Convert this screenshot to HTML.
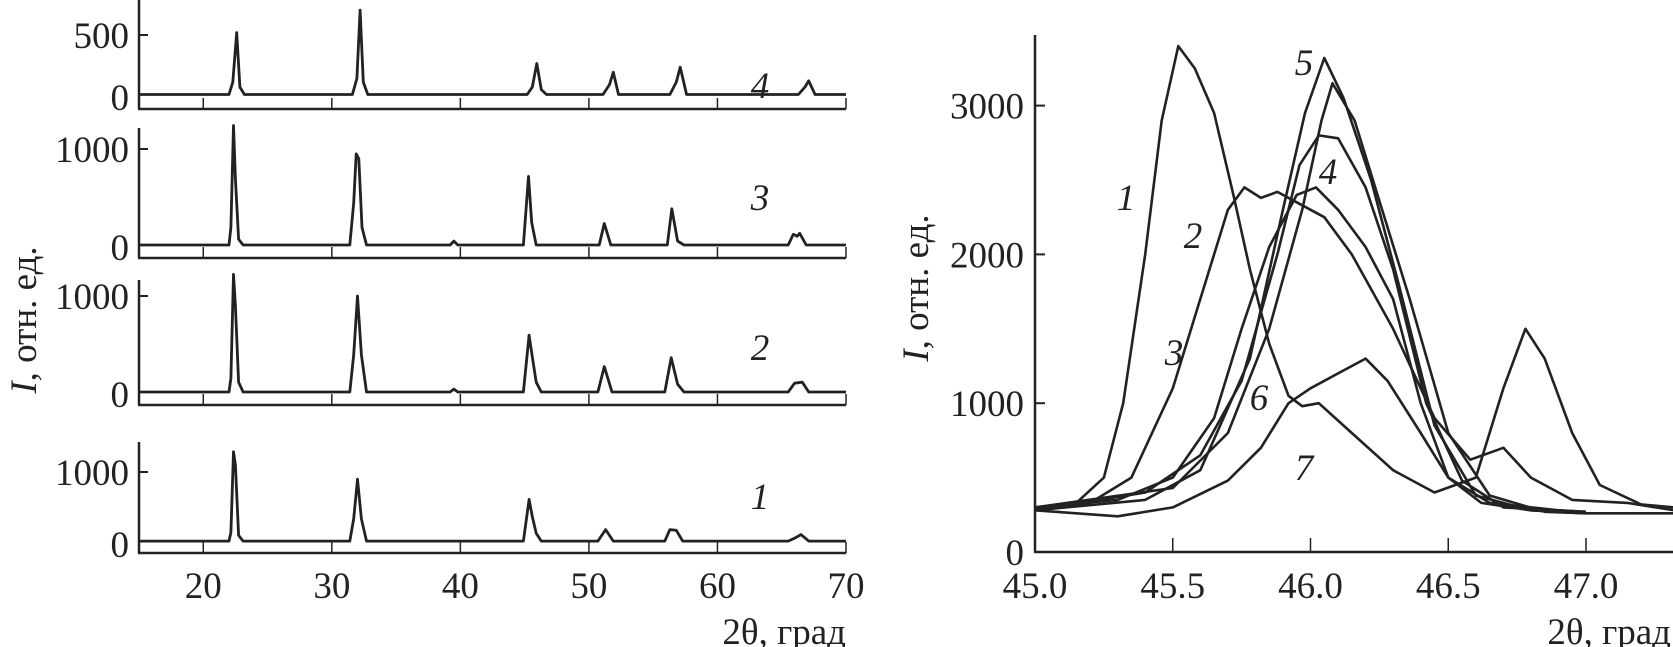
<!DOCTYPE html>
<html><head><meta charset="utf-8"><style>
html,body{margin:0;padding:0;background:#fff;}
svg{display:block;font-family:"Liberation Serif",serif;}
</style></head><body>
<svg id="c" width="1673" height="647" viewBox="0 0 1673 647" xmlns="http://www.w3.org/2000/svg"></svg>
<script>
// ---------- Left chart data (2θ, intensity) ----------
const leftXTicks = [20, 30, 40, 50, 60, 70];
const panel1 = [[15,40],[22,40],[22.15,160],[22.35,1280],[22.5,1100],[22.75,120],[23.1,40],[31.4,40],[31.7,350],[32.0,900],[32.3,350],[32.7,40],[44.9,40],[45.35,620],[45.6,380],[45.9,150],[46.3,40],[50.7,40],[51.3,200],[51.9,40],[55.9,40],[56.3,200],[56.8,190],[57.3,40],[65.5,40],[66.0,80],[66.5,130],[67.1,40],[70,40]];
const panel2 = [[15,20],[22,20],[22.15,160],[22.35,1220],[22.5,900],[22.75,120],[23.1,20],[31.4,20],[31.7,400],[32.0,1000],[32.3,400],[32.7,20],[39.2,20],[39.5,50],[39.8,20],[44.9,20],[45.35,600],[45.6,380],[45.9,120],[46.3,20],[50.7,20],[51.2,280],[51.8,20],[55.9,20],[56.4,370],[56.9,100],[57.4,20],[65.5,20],[66.0,110],[66.6,120],[67.1,20],[70,20]];
const panel3 = [[15,20],[22,20],[22.15,200],[22.35,1240],[22.5,700],[22.75,80],[23.1,20],[31.4,20],[31.7,450],[31.9,950],[32.1,900],[32.35,200],[32.7,20],[39.2,20],[39.5,60],[39.8,20],[44.9,20],[45.3,720],[45.55,250],[45.9,20],[50.8,20],[51.2,240],[51.7,20],[56.1,20],[56.45,390],[56.9,60],[57.4,20],[65.5,20],[65.9,130],[66.2,110],[66.4,140],[66.9,20],[70,20]];
const panel4 = [[15,20],[22,20],[22.3,120],[22.6,520],[22.85,80],[23.2,20],[31.6,20],[31.95,150],[32.2,700],[32.45,120],[32.8,20],[45.2,20],[45.6,80],[45.95,270],[46.3,60],[46.7,20],[51.1,20],[51.6,100],[51.9,200],[52.3,20],[56.3,20],[56.8,120],[57.1,240],[57.6,20],[66.3,20],[66.8,80],[67.1,130],[67.6,20],[70,20]];
const leftPanels = [panel4, panel3, panel2, panel1];
const leftPanelLabels = ["4","3","2","1"];
const leftYTicks = [[0,500],[0,1000],[0,1000],[0,1000]];

// ---------- Right chart data (2θ, intensity) ----------
const rightXTicks = [45.0, 45.5, 46.0, 46.5, 47.0];
const rightYTicks = [0, 1000, 2000, 3000];
const curve1 = [[45.0,300],[45.15,330],[45.25,500],[45.32,1000],[45.4,2000],[45.46,2900],[45.52,3400],[45.58,3250],[45.65,2950],[45.72,2400],[45.78,1900],[45.85,1400],[45.92,1050],[45.97,980],[46.03,1000],[46.15,800],[46.3,550],[46.45,400],[46.6,500],[46.7,1100],[46.78,1500],[46.85,1300],[46.95,800],[47.05,450],[47.2,320],[47.32,300]];
const curve2 = [[45.0,300],[45.2,330],[45.35,500],[45.5,1100],[45.6,1700],[45.7,2300],[45.76,2450],[45.82,2380],[45.88,2420],[45.95,2350],[46.05,2250],[46.15,2000],[46.3,1500],[46.45,900],[46.58,620],[46.7,700],[46.8,500],[46.95,350],[47.15,330],[47.32,280]];
const curve3 = [[45.0,300],[45.3,350],[45.5,500],[45.65,900],[45.75,1500],[45.85,2050],[45.95,2400],[46.02,2450],[46.1,2300],[46.2,2050],[46.3,1700],[46.4,1000],[46.5,500],[46.65,330],[46.9,280],[47.0,270]];
const curve4 = [[45.0,280],[45.4,400],[45.6,650],[45.75,1150],[45.88,2000],[45.96,2600],[46.03,2800],[46.1,2780],[46.2,2450],[46.3,1900],[46.42,1000],[46.55,480],[46.7,300],[47.0,270]];
const curve5 = [[45.0,280],[45.4,350],[45.6,550],[45.78,1300],[45.9,2300],[45.98,2950],[46.05,3320],[46.12,3050],[46.22,2500],[46.32,1800],[46.45,850],[46.6,380],[46.8,280],[47.0,260]];
const curve6 = [[45.0,300],[45.5,430],[45.7,800],[45.85,1500],[45.97,2300],[46.04,2900],[46.08,3150],[46.16,2900],[46.26,2300],[46.36,1700],[46.5,800],[46.65,380],[46.85,270],[47.0,260]];
const curve7 = [[45.0,280],[45.3,240],[45.5,300],[45.7,480],[45.82,700],[45.92,1000],[46.0,1100],[46.1,1200],[46.2,1300],[46.28,1150],[46.4,800],[46.5,500],[46.62,330],[46.8,280],[47.0,260],[47.32,260]];
const rightCurves = [curve1, curve2, curve3, curve4, curve5, curve6, curve7];

const NS = "http://www.w3.org/2000/svg";
const svg = document.getElementById("c");
const FS = 37;
function mk(tag, attrs, parent) {
  const e = document.createElementNS(NS, tag);
  for (const k in attrs) e.setAttribute(k, attrs[k]);
  (parent || svg).appendChild(e);
  return e;
}

// ---------- Left chart ----------
const LX0 = 139, LX1 = 846, Lxmin = 15, Lxmax = 70;
const lx = v => LX0 + (v - Lxmin) / (Lxmax - Lxmin) * (LX1 - LX0);
const panelGeom = [
  {base:109, zero:97, pxPer:0.124, top:0},
  {base:258, zero:247, pxPer:0.098, top:128},
  {base:405, zero:394, pxPer:0.098, top:280},
  {base:553, zero:544, pxPer:0.072, top:442}
];
const labelY = [85, 197, 347, 496];
leftPanels.forEach((pts, i) => {
  const g = mk("g", {});
  
  
  const pg = panelGeom[i];
  const ly = v => pg.zero - v * pg.pxPer;
  const ya = mk("line", {x1:LX0, y1:pg.top, x2:LX0, y2:pg.base, stroke:"#222", "stroke-width":2.5}, g);
  
  
  const xa = mk("line", {x1:LX0-1, y1:pg.base, x2:LX1, y2:pg.base, stroke:"#222", "stroke-width":2.5}, g);
  
  
  leftXTicks.forEach(t => {
    const tk = mk("line", {x1:lx(t), y1:pg.base, x2:lx(t), y2:pg.base-11, stroke:"#222", "stroke-width":1.5}, g);
    
    
  });
  leftYTicks[i].forEach(t => {
    const y = ly(t);
    if (t > 0) {
      const tk = mk("line", {x1:LX0, y1:y, x2:LX0+9, y2:y, stroke:"#222", "stroke-width":2}, g);
      
      
    }
    const tx = mk("text", {x:129, y:y+13, "text-anchor":"end", "font-size":FS, fill:"#222"}, g);
    tx.textContent = t;
    
    
  });
  const d = pts.map((p, j) => (j ? "L" : "M") + lx(p[0]).toFixed(1) + "," + ly(p[1]).toFixed(1)).join("");
  const path = mk("path", {d, fill:"none", stroke:"#222", "stroke-width":2.8, "stroke-linejoin":"round"}, g);
  
  
  const lab = mk("text", {x:760, y:labelY[i]+13, "text-anchor":"middle", "font-size":FS, "font-style":"italic", fill:"#222"}, g);
  lab.textContent = leftPanelLabels[i];
  
  
});
leftXTicks.forEach(t => {
  const tx = mk("text", {x:lx(t), y:598, "text-anchor":"middle", "font-size":FS, fill:"#222"});
  tx.textContent = t;
  
  
});
const lxTitle = mk("text", {x:846, y:644, "text-anchor":"end", "font-size":FS, fill:"#222"});
lxTitle.textContent = "2θ, град";


const lyTitle = mk("text", {x:0, y:0, "text-anchor":"middle", "font-size":FS, fill:"#222", transform:"translate(36,320) rotate(-90)"});
lyTitle.innerHTML = '<tspan font-style="italic">I</tspan>, отн. ед.';



// ---------- Right chart ----------
const RX0 = 1035, Rxmin = 45.0, RpxPerUnit = 275.5;
const rx = v => RX0 + (v - Rxmin) * RpxPerUnit;
const RY0 = 552, RpxPer = 0.1488;
const ry = v => RY0 - v * RpxPer;
const rg = mk("g", {});


const rya = mk("line", {x1:RX0, y1:35, x2:RX0, y2:RY0, stroke:"#222", "stroke-width":2.5}, rg);


const rxa = mk("line", {x1:RX0-1, y1:RY0, x2:1673, y2:RY0, stroke:"#222", "stroke-width":2.5}, rg);


rightXTicks.forEach(t => {
  if (t > Rxmin) {
    const tk = mk("line", {x1:rx(t), y1:RY0, x2:rx(t), y2:RY0-14, stroke:"#222", "stroke-width":1.5}, rg);
    
    
  }
  const tx = mk("text", {x:rx(t), y:598, "text-anchor":"middle", "font-size":FS, fill:"#222"}, rg);
  tx.textContent = t.toFixed(1);
  
  
});
rightYTicks.forEach(t => {
  if (t > 0) {
    const tk = mk("line", {x1:RX0, y1:ry(t), x2:RX0+10, y2:ry(t), stroke:"#222", "stroke-width":2}, rg);
    
    
  }
  const tx = mk("text", {x:1024, y:ry(t)+13, "text-anchor":"end", "font-size":FS, fill:"#222"}, rg);
  tx.textContent = t;
  
  
});
rightCurves.forEach((pts, i) => {
  const d = pts.map((p, j) => (j ? "L" : "M") + rx(p[0]).toFixed(1) + "," + ry(p[1]).toFixed(1)).join("");
  const path = mk("path", {d, fill:"none", stroke:"#222", "stroke-width":2.6, "stroke-linejoin":"round"}, rg);
  
  
});
const rLabels = [["1",1126,197],["2",1193,235],["3",1174,352],["4",1328,171],["5",1304,62],["6",1259,397],["7",1304,467]];
rLabels.forEach(l => {
  const t = mk("text", {x:l[1], y:l[2]+13, "text-anchor":"middle", "font-size":FS, "font-style":"italic", fill:"#222"}, rg);
  t.textContent = l[0];
  
  
});
const rxTitle = mk("text", {x:1671, y:644, "text-anchor":"end", "font-size":FS, fill:"#222"}, rg);
rxTitle.textContent = "2θ, град";


const ryTitle = mk("text", {x:0, y:0, "text-anchor":"middle", "font-size":FS, fill:"#222", transform:"translate(928,288) rotate(-90)"}, rg);
ryTitle.innerHTML = '<tspan font-style="italic">I</tspan>, отн. ед.';


</script>
</body></html>
